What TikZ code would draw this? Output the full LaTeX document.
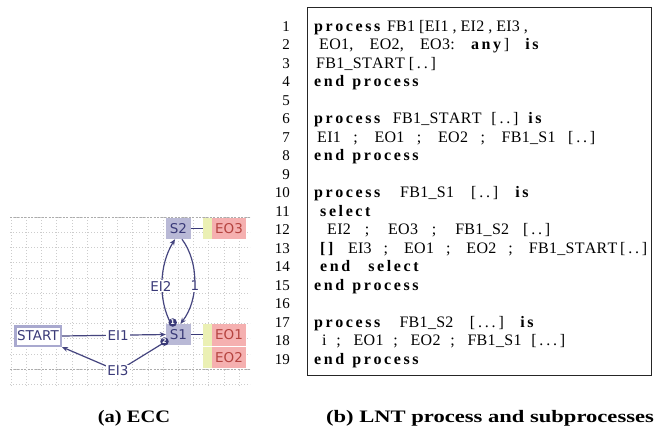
\documentclass[tikz,border=0pt]{standalone}
\usepackage{fontspec}
\usepackage{graphicx}
\usetikzlibrary{arrows.meta,calc}
\setmainfont{Liberation Serif}
\newfontfamily\diafont{DejaVu Sans}
\newfontfamily\codefont{Liberation Serif}
\definecolor{navy}{HTML}{3A3A78}
\definecolor{arrowc}{HTML}{45457F}
\definecolor{lav}{HTML}{B9B9D6}
\definecolor{lavb}{HTML}{A9A9CF}
\definecolor{redf}{HTML}{F5B0B0}
\definecolor{redt}{HTML}{B5433F}
\definecolor{yel}{HTML}{EBF0B4}
\ExplSyntaxOn
\NewDocumentCommand\lsx{mm}{\str_map_inline:nn{#2}{##1\hspace*{#1}}\hspace*{-#1}}
\NewDocumentCommand\lsk{mm}{\str_map_inline:nn{#2}{##1\hspace*{#1}}}
\ExplSyntaxOff
\newcommand\cd[1]{\lsx{0.3pt}{#1}}
\newcommand\kw[1]{{\bfseries\lsk{2.6pt}{#1}}}
\newcommand\dt[1]{\lsx{2.8pt}{#1}}
\newsavebox\linebox
\newcommand\fitline[2]{\sbox\linebox{#2}\ifdim\wd\linebox<#1\relax\makebox[#1][s]{#2}\else\usebox\linebox\fi}
\begin{document}
\begin{tikzpicture}[x=1pt,y=-1pt,
  gridline/.style={gray!40,line width=0.5pt,dash pattern=on 1pt off 2pt},
  gridmajor/.style={gray!65,line width=0.6pt,dash pattern=on 2pt off 1.5pt},
  dfont/.style={font=\diafont\fontsize{13.5}{15}\selectfont},
  snode/.style={dfont,fill=lav,text=navy,minimum width=25pt,minimum height=21pt,inner sep=0pt},
  startnode/.style={dfont,fill=white,draw=lavb,line width=2.5pt,text=navy,minimum width=45.5pt,minimum height=19.5pt,inner sep=0pt},
  ybar/.style={fill=yel,minimum width=9pt,inner sep=0pt},
  rbox/.style={dfont,fill=redf,text=redt,minimum width=34pt,inner sep=0pt},
  conn/.style={navy,line width=1pt},
  arr/.style={arrowc,line width=1.2pt,-{Stealth[length=6pt,width=5pt]}},
  lbl/.style={dfont,fill=white,text=navy,inner sep=1.2pt},
  marker/.style={circle,fill=navy,text=white,minimum size=8.5pt,inner sep=0pt,font=\diafont\fontsize{6.5}{7}\selectfont\bfseries},
  codeline/.style={anchor=base west,inner sep=0pt,font=\codefont\fontsize{16}{18}\selectfont},
  numline/.style={anchor=base east,inner sep=0pt,font=\codefont\fontsize{15}{17}\selectfont},
  caption/.style={anchor=base,inner sep=0pt,font=\fontsize{17.5}{20}\selectfont\bfseries}
]
\fill[white] (0,0) rectangle (655,429);
\useasboundingbox (0,0) rectangle (655,429);
% grid
\foreach \i in {0,...,11} \draw[gridline] (10,{217+15.2*\i}) -- (250,{217+15.2*\i});
\foreach \i in {0,...,15} \draw[gridline] ({11+15.2*\i},217) -- ({11+15.2*\i},387);
\draw[gridmajor] (10,217) -- (250,217);
\draw[gridmajor] (10,369) -- (250,369);
% ECC nodes
\node[snode] (s2) at (178.5,228.5) {S2};
\node[snode] (s1) at (178.5,334.5) {S1};
\node[startnode] (start) at (38,336) {START};
\node[ybar,minimum height=21pt] (yb2) at (207.5,228.5) {};
\node[rbox,minimum height=21pt] (eo3) at (229,228.5) {EO3};
\node[ybar,minimum height=44pt] (yb1) at (207.5,346) {};
\node[rbox,minimum height=22pt] (eo1) at (229,335) {EO1};
\node[rbox,minimum height=21pt] (eo2) at (229,357.5) {EO2};
\draw[white,line width=0.9pt] (eo1.south west -| yb1.west) -- (eo1.south east);
\draw[conn] (s2.east) -- (s2.east -| yb2.west);
\draw[conn] (s1.east) -- (s1.east -| yb1.west);
% transitions
\draw[arr] (start.east) -- (s1.west) node[lbl,pos=0.54] (lei1) {EI1};
\coordinate (m3) at (118,371);
\draw[arr] (s1.209) -- (m3) -- (start.south east);
\node[lbl] (lei3) at (m3) {EI3};
\draw[arr] (s1.125) .. controls (158,300) and (159,265) .. (s2.252);
\node[lbl] (lei2) at (161,286) {EI2};
\draw[arr] (s2.288) .. controls (199,262) and (199,300) .. (s1.80);
\node[lbl] (lone) at (195,286) {1};
\node[marker] (k1) at (172.7,322.5) {1};
\node[marker] (k2) at (164.5,341.5) {2};
% code box
\node[draw=black!85,line width=0.8pt,minimum width=344pt,minimum height=368pt,inner sep=0pt,anchor=north west] (codebox) at (306.5,7) {};
\foreach \k in {1,...,19} \node[numline] (n\k) at (290,{31+(\k-1)*18.5}) {\k};
\newcommand\cl[5]{\node[codeline] (#1) at (#3,{31+(#2-1)*18.5}) {\fitline{\dimexpr #4pt-#3pt\relax}{#5}};}
\cl{c1}{1}{314}{515}{\kw{process} \cd{FB1} \cd{[EI1} , \cd{EI2} , \cd{EI3} ,}
\cl{c2}{2}{319}{541}{\cd{EO1,} \cd{EO2,} \cd{EO3:} \kw{any}] \kw{is}}
\cl{c3}{3}{316}{425}{\cd{FB1_START} \dt{[..]}}
\cl{c4}{4}{314}{421}{\kw{end} \kw{process}}
\cl{c6}{6}{314}{544}{\kw{process} \cd{FB1_START} \dt{[..]} \kw{is}}
\cl{c7}{7}{317}{595}{\cd{EI1} ; \cd{EO1} ; \cd{EO2} ; \cd{FB1_S1} \dt{[..]}}
\cl{c8}{8}{314}{421}{\kw{end} \kw{process}}
\cl{c10}{10}{314}{531}{\kw{process} \cd{FB1_S1} \dt{[..]} \kw{is}}
\cl{c11}{11}{320}{383}{\kw{select}}
\cl{c12}{12}{327}{550}{\cd{EI2} ; \cd{EO3} ; \cd{FB1_S2} \dt{[..]}}
\cl{c13}{13}{320}{647}{\kw{[]} \cd{EI3} ; \cd{EO1} ; \cd{EO2} ; \cd{FB1_START}\,\dt{[..]}}
\cl{c14}{14}{320}{421}{\kw{end} \kw{select}}
\cl{c15}{15}{314}{421}{\kw{end} \kw{process}}
\cl{c17}{17}{314}{536}{\kw{process} \cd{FB1_S2} \dt{[...]} \kw{is}}
\cl{c18}{18}{322}{565}{i ; \cd{EO1} ; \cd{EO2} ; \cd{FB1_S1} \dt{[...]}}
\cl{c19}{19}{314}{421}{\kw{end} \kw{process}}
% captions
\node[caption] (capa) at (134,422) {\scalebox{1.17}[1]{(a) ECC}};
\node[caption] (capb) at (490,422) {\scalebox{1.29}[1]{(b) LNT process and subprocesses}};
\end{tikzpicture}
\end{document}
